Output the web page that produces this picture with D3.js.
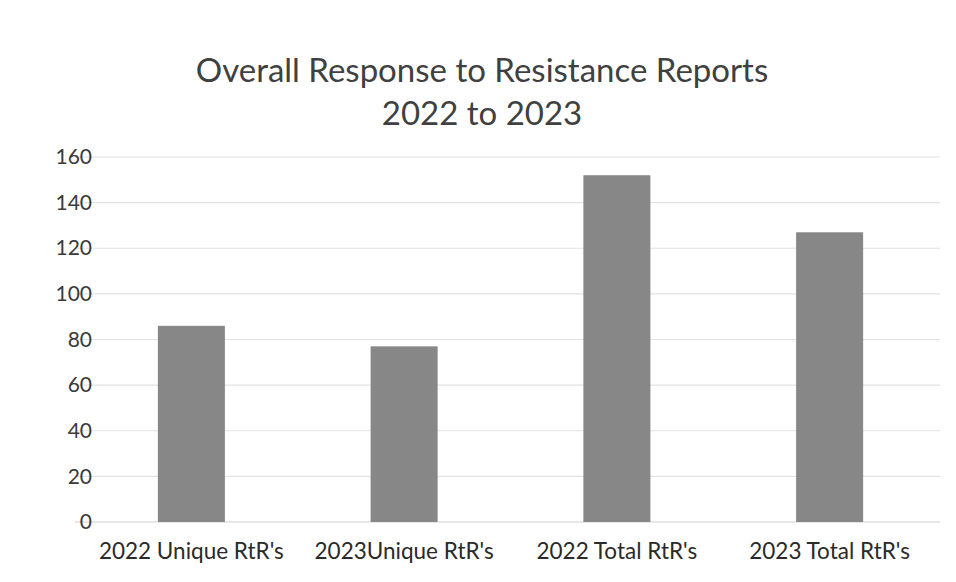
<!DOCTYPE html>
<html><head><meta charset="utf-8">
<script src="https://cdn.jsdelivr.net/npm/d3@7"></script>
<style>body{margin:0;background:#fff}svg{display:block}</style>
</head><body>
<script>
const categories = ["2022 Unique RtR's", "2023Unique RtR's", "2022 Total RtR's", "2023 Total RtR's"];
const values = [86, 77, 152, 127];
const yTicks = [0, 20, 40, 60, 80, 100, 120, 140, 160];
const titleLines = ["Overall Response to Resistance Reports", "2022 to 2023"];

const W = 956, H = 582;
const svg = d3.select("body").append("svg").attr("width", W).attr("height", H);
const font = "Lato, 'Open Sans', sans-serif";

const x = d3.scaleBand().domain(categories).range([85, 936]).padding(0);
const y = d3.scaleLinear().domain([0, 160]).range([522, 157]);

// gridlines
svg.append("g").selectAll("line").data(yTicks).join("line")
  .attr("x1", 75).attr("x2", 940)
  .attr("y1", d => y(d)).attr("y2", d => y(d))
  .attr("stroke", d => d === 0 ? "#d0d0d0" : "#e2e2e2").attr("stroke-width", 1.2);

// y axis labels
const yAxis = d3.axisLeft(y).tickValues(yTicks).tickSize(0).tickPadding(0);
const gy = svg.append("g").attr("transform", "translate(92,0)").call(yAxis);
gy.select(".domain").remove();
gy.selectAll("text").attr("font-family", font).attr("font-size", 21).attr("fill", "#3a3a3a");

// bars
const bw = x.bandwidth() * 0.315;
svg.append("g").selectAll("rect").data(values).join("rect")
  .attr("x", (d, i) => x(categories[i]) + x.bandwidth() / 2 - bw / 2)
  .attr("width", bw)
  .attr("y", d => y(d))
  .attr("height", d => y(0) - y(d))
  .attr("fill", "#878787");

// x labels
const xAxis = d3.axisBottom(x).tickSize(0).tickPadding(0);
const gx = svg.append("g").attr("transform", "translate(0,541)").call(xAxis);
gx.select(".domain").remove();
gx.selectAll("text").attr("font-family", font).attr("font-size", 22.5).attr("fill", "#2a2a2a").attr("dy", "0.8em");

// title
svg.append("g").selectAll("text").data(titleLines).join("text")
  .attr("x", 482).attr("y", (d, i) => 82 + i * 43)
  .attr("text-anchor", "middle")
  .attr("font-family", font).attr("font-size", 33).attr("fill", "#404040")
  .text(d => d);
</script>
</body></html>
